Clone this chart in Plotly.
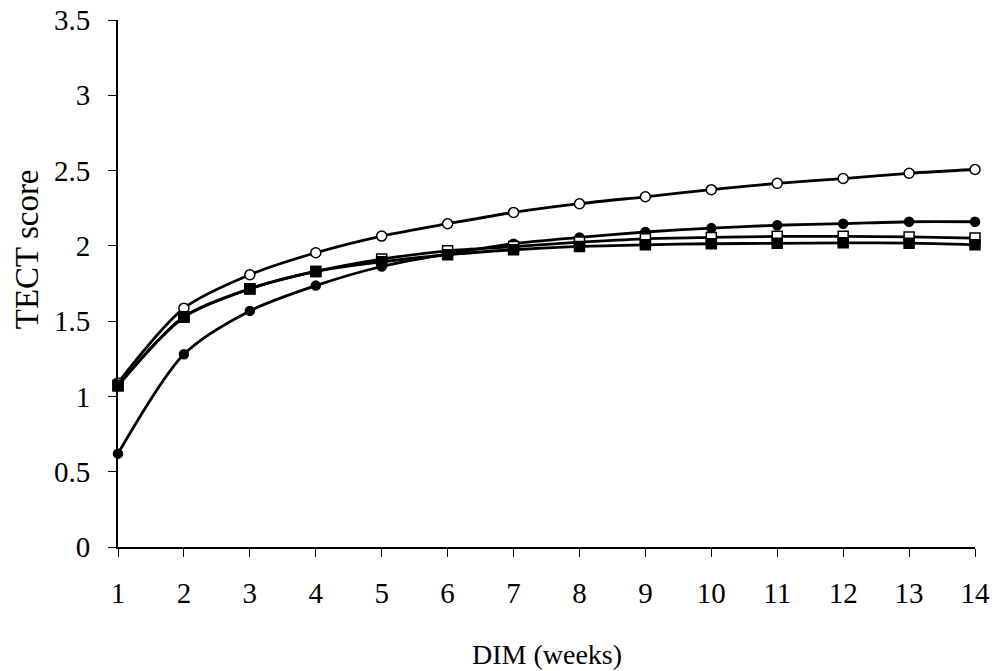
import plotly.graph_objects as go

weeks = list(range(1, 15))
open_circle = [1.09, 1.586, 1.808, 1.954, 2.065, 2.147, 2.222, 2.28, 2.326, 2.373, 2.415, 2.447, 2.482, 2.507]
filled_circle = [0.62, 1.28, 1.568, 1.736, 1.863, 1.945, 2.014, 2.056, 2.092, 2.118, 2.137, 2.147, 2.16, 2.16]
open_square = [1.07, 1.53, 1.715, 1.83, 1.912, 1.967, 1.995, 2.025, 2.047, 2.056, 2.063, 2.063, 2.059, 2.052]
filled_square = [1.075, 1.526, 1.714, 1.83, 1.894, 1.941, 1.974, 1.996, 2.007, 2.014, 2.017, 2.02, 2.018, 2.007]

y_ticks = [0, 0.5, 1, 1.5, 2, 2.5, 3, 3.5]
y_tick_text = ["0", "0.5", "1", "1.5", "2", "2.5", "3", "3.5"]

FONT = "Liberation Serif, Times New Roman, serif"

fig = go.Figure()

def add(y, symbol, fill, size):
    fig.add_trace(go.Scatter(
        x=weeks, y=y, mode="lines+markers",
        line=dict(color="black", width=2.8, shape="spline", smoothing=0.8),
        marker=dict(symbol=symbol, size=size, color=fill,
                    line=dict(color="black", width=1.5)),
        cliponaxis=False, showlegend=False,
    ))

add(open_circle, "circle", "white", 10)
add(filled_circle, "circle", "black", 9)
add(open_square, "square", "white", 10)
add(filled_square, "square", "black", 10)

fig.update_layout(
    width=996, height=671,
    margin=dict(l=118, r=21, t=20, b=124),
    paper_bgcolor="white", plot_bgcolor="white",
    font=dict(family=FONT, color="black", size=29),
    xaxis=dict(
        range=[1, 14], tickmode="array", tickvals=weeks,
        ticktext=[str(w) for w in weeks],
        showline=True, linecolor="black", linewidth=2,
        ticks="outside", ticklen=8, tickwidth=1, tickcolor="black",
        showgrid=False, zeroline=False, ticklabelstandoff=11,
        automargin=False,
        tickfont=dict(family=FONT, size=29, color="black"),
    ),
    yaxis=dict(
        range=[0, 3.5], tickmode="array", tickvals=y_ticks, ticktext=y_tick_text,
        showline=True, linecolor="black", linewidth=2,
        ticks="outside", ticklen=8, tickwidth=1, tickcolor="black",
        showgrid=False, zeroline=False, ticklabelstandoff=12,
        automargin=False,
        tickfont=dict(family=FONT, size=29, color="black"),
    ),
    annotations=[
        dict(text="TECT score", xref="paper", yref="paper", x=0, y=0.565,
             xanchor="center", yanchor="middle", xshift=-91, textangle=-90,
             showarrow=False, font=dict(family=FONT, size=33, color="black")),
        dict(text="DIM (weeks)", xref="paper", yref="paper", x=0.5, y=0,
             xanchor="center", yanchor="middle", yshift=-107,
             showarrow=False, font=dict(family=FONT, size=28, color="black")),
    ],
)

fig.write_html(
    "out.html",
    config={"displayModeBar": False},
    post_script="document.body.style.margin='0';document.body.style.overflow='hidden';",
)
